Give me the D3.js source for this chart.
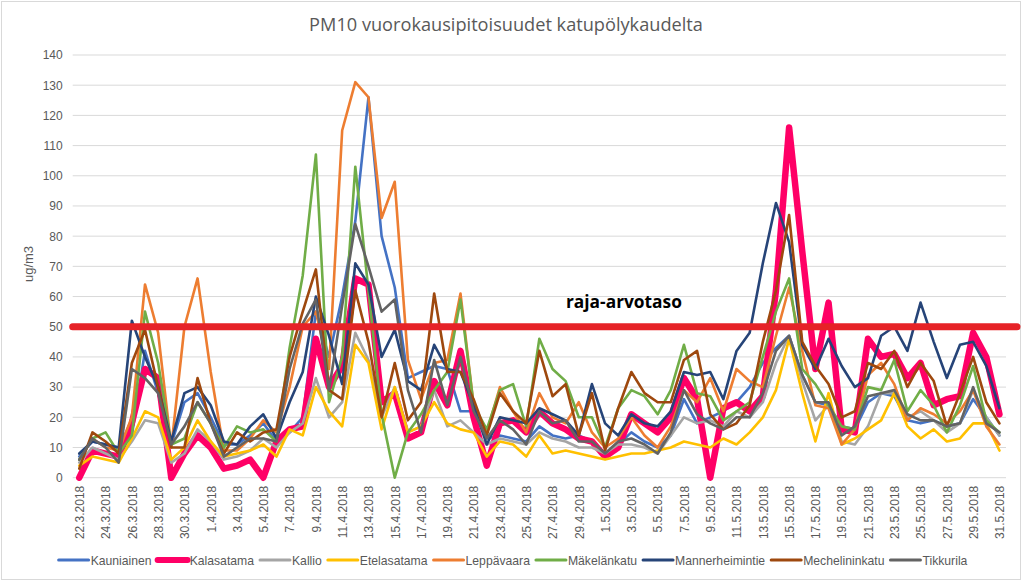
<!DOCTYPE html>
<html><head><meta charset="utf-8">
<script src="https://cdn.jsdelivr.net/npm/d3@7/dist/d3.min.js"></script>
<style>html,body{margin:0;padding:0;background:#fff;}svg{display:block;font-family:"Liberation Sans","DejaVu Sans",sans-serif;}</style>
</head><body>
<svg id="c" width="1023" height="583"></svg>
<script>
const dates = ["22.3.2018","23.3.2018","24.3.2018","25.3.2018","26.3.2018","27.3.2018","28.3.2018","29.3.2018","30.3.2018","31.3.2018",
"1.4.2018","2.4.2018","3.4.2018","4.4.2018","5.4.2018","6.4.2018","7.4.2018","8.4.2018","9.4.2018","10.4.2018",
"11.4.2018","12.4.2018","13.4.2018","14.4.2018","15.4.2018","16.4.2018","17.4.2018","18.4.2018","19.4.2018","20.4.2018",
"21.4.2018","22.4.2018","23.4.2018","24.4.2018","25.4.2018","26.4.2018","27.4.2018","28.4.2018","29.4.2018","30.4.2018",
"1.5.2018","2.5.2018","3.5.2018","4.5.2018","5.5.2018","6.5.2018","7.5.2018","8.5.2018","9.5.2018","10.5.2018",
"11.5.2018","12.5.2018","13.5.2018","14.5.2018","15.5.2018","16.5.2018","17.5.2018","18.5.2018","19.5.2018","20.5.2018",
"21.5.2018","22.5.2018","23.5.2018","24.5.2018","25.5.2018","26.5.2018","27.5.2018","28.5.2018","29.5.2018","30.5.2018","31.5.2018"];

const tickLabels = ["22.3.2018","24.3.2018","26.3.2018","28.3.2018","30.3.2018","1.4.2018","3.4.2018","5.4.2018","7.4.2018","9.4.2018",
"11.4.2018","13.4.2018","15.4.2018","17.4.2018","19.4.2018","21.4.2018","23.4.2018","25.4.2018","27.4.2018","29.4.2018",
"1.5.2018","3.5.2018","5.5.2018","7.5.2018","9.5.2018","11.5.2018","13.5.2018","15.5.2018","17.5.2018","19.5.2018",
"21.5.2018","23.5.2018","25.5.2018","27.5.2018","29.5.2018","31.5.2018"];

const yTicks = [0,10,20,30,40,50,60,70,80,90,100,110,120,130,140];

const seriesNames = ["Kauniainen","Kalasatama","Kallio","Etelasatama","Leppävaara","Mäkelänkatu","Mannerheimintie","Mechelininkatu","Tikkurila"];

const kauniainen = [7,12,11,10,14,42,28,11,25,28,20,11,11,14,18,12,15,20,55,40,60,85,126,80,63,33,35,37,36,22,22,13,14,13,12,17,14,13,14,12,8,11,15,12,10,14,26,18,20,22,25,30,38,43,47,34,25,24,17,16,25,28,27,19,18,19,17,18,26,20,14];
const kalasatama = [0,9,8,7,18,36,33,0,8,14,10,3,4,6,0,12,16,17,46,30,37,66,64,25,28,13,15,32,24,42,20,4,18,19,15,22,18,16,13,12,7,10,21,18,15,20,33,26,0,23,25,22,27,62,116,75,36,58,16,15,46,40,41,33,38,24,26,27,48,40,21];
const kallio = [5,10,8,6,12,19,18,5,8,16,12,6,7,9,13,10,15,18,33,20,25,48,39,20,30,15,17,29,17,19,15,11,13,12,11,15,13,12,10,10,8,11,11,10,8,14,20,18,19,17,22,20,25,38,47,32,19,24,12,11,17,28,28,20,22,19,15,18,29,20,14];
const etelasatama = [4,7,6,5,13,22,20,6,10,19,12,7,8,9,11,7,16,14,30,22,17,44,38,16,30,15,17,25,18,16,15,7,12,11,7,14,8,9,8,7,6,7,8,8,9,10,12,11,10,13,11,15,20,29,46,28,12,28,11,13,16,19,28,17,13,16,12,13,18,18,9];
const leppavaara = [6,13,10,9,20,64,48,10,50,66,35,9,9,13,19,15,30,50,55,36,115,131,126,86,98,39,26,38,39,61,24,15,30,22,15,28,20,18,25,15,10,13,20,14,10,17,29,25,33,22,36,32,30,47,63,42,24,23,11,16,34,38,31,19,23,21,18,22,29,17,11];
const makelankatu = [6,13,15,8,14,55,38,11,13,25,18,10,17,15,16,12,43,67,107,25,40,103,62,21,0,15,21,29,35,59,24,16,29,31,17,46,36,32,20,20,10,23,29,27,21,29,44,28,27,19,22,25,40,55,66,36,31,24,17,16,30,29,39,22,29,24,15,24,37,19,15];
const mannerheimintie = [8,12,11,10,52,40,30,12,28,30,24,12,11,17,21,13,25,35,60,47,31,71,64,40,49,32,29,44,36,35,24,11,20,19,18,23,21,19,14,31,18,14,21,18,17,22,35,34,35,26,42,48,71,91,78,44,36,46,37,30,33,47,50,42,58,45,33,44,45,37,23];
const mechelininkatu = [3,15,12,8,38,49,30,10,10,33,18,8,15,12,15,16,40,55,69,29,26,62,45,20,38,19,25,61,35,35,26,14,28,22,18,42,27,31,14,28,9,23,35,28,25,25,39,42,21,16,18,24,45,62,87,45,37,31,20,22,38,36,42,30,38,32,17,28,40,25,18];
const tikkurila = [6,13,10,5,36,33,28,11,17,25,18,7,10,13,13,12,36,51,59,29,57,84,70,55,59,29,15,39,24,40,22,13,19,16,11,22,18,19,12,12,8,12,13,11,8,15,29,21,18,16,20,20,28,42,47,34,25,25,14,17,27,28,29,21,19,19,17,18,30,18,15];

const seriesValues = [kauniainen,kalasatama,kallio,etelasatama,leppavaara,makelankatu,mannerheimintie,mechelininkatu,tikkurila];
const seriesColors = ["#4472C4","#FF0066","#A5A5A5","#FFC000","#ED7D31","#70AD47","#264478","#9E480E","#636363"];
const seriesWidths = [2.6,6.5,2.6,2.6,2.6,2.6,2.6,2.6,2.6];

const limitValue = 50;
const limitLabel = "raja-arvotaso";
const titleText = "PM10 vuorokausipitoisuudet katupölykaudelta";
const yTitle = "ug/m3";

const svg = d3.select("#c");
const pL = 72.7, pR = 1006, pT = 55, pB = 477.7;

svg.append("rect").attr("x",1.5).attr("y",1.5).attr("width",1019).attr("height",578)
  .attr("fill","#fff").attr("stroke","#D9D9D9").attr("stroke-width",1);

const x = d3.scalePoint().domain(dates).range([pL,pR]).padding(0.5);
const y = d3.scaleLinear().domain([0,140]).range([pB,pT]);

svg.append("g").selectAll("line").data(yTicks).join("line")
  .attr("x1",pL).attr("x2",pR).attr("y1",d=>y(d)).attr("y2",d=>y(d))
  .attr("stroke","#D9D9D9").attr("stroke-width",1);

const yAxis = d3.axisLeft(y).tickValues(yTicks).tickSize(0).tickPadding(0);
const gy = svg.append("g").attr("transform",`translate(${pL-10},0)`).call(yAxis);
gy.select(".domain").remove();
gy.selectAll("text").attr("fill","#595959").style("font-size","12px").attr("font-family","Liberation Sans, sans-serif");

const xAxis = d3.axisBottom(x).tickValues(tickLabels).tickSize(0).tickPadding(0);
const gx = svg.append("g").attr("transform",`translate(0,${pB})`).call(xAxis);
gx.select(".domain").remove();
gx.selectAll("text").attr("fill","#595959").style("font-size","12px").attr("font-family","Liberation Sans, sans-serif")
  .attr("text-anchor","end").attr("dy",null).attr("y",0)
  .attr("transform",`translate(4.3,8) rotate(-90)`);

const line = d3.line().x((d,i)=>x(dates[i])).y(d=>y(d));
svg.append("g").selectAll("path").data(seriesValues).join("path")
  .attr("d",d=>line(d)).attr("fill","none")
  .attr("stroke",(d,i)=>seriesColors[i]).attr("stroke-width",(d,i)=>seriesWidths[i])
  .attr("stroke-linejoin","round").attr("stroke-linecap","round");

svg.append("line").attr("x1",pL).attr("x2",1017).attr("y1",y(limitValue)).attr("y2",y(limitValue))
  .attr("stroke","#E62227").attr("stroke-width",7).attr("stroke-linecap","round");

function fit(sel, w){
  const n = sel.node(); const cur = parseFloat(sel.style("font-size"));
  const m = n.getComputedTextLength(); sel.style("font-size",(cur*w/m)+"px");
}
const lt = svg.append("text").attr("x",566).attr("y",308).text(limitLabel)
  .attr("font-weight","bold").attr("fill","#000").style("font-size","15px").attr("font-family","Open Sans, Liberation Sans, sans-serif");
fit(lt,116);

const tt = svg.append("text").attr("x",506).attr("y",31).attr("text-anchor","middle").text(titleText)
  .attr("fill","#595959").style("font-size","17px").attr("font-family","Open Sans, Liberation Sans, sans-serif");
fit(tt,394);

svg.append("text").attr("transform","translate(33,264) rotate(-90)").attr("text-anchor","middle")
  .text(yTitle).attr("fill","#595959").style("font-size","13px");

const lg = svg.append("g");
let cx = 0;
seriesNames.forEach((n,i)=>{
  const g = lg.append("g");
  g.append("line").attr("x1",0).attr("x2",30).attr("y1",0).attr("y2",0)
    .attr("stroke",seriesColors[i]).attr("stroke-width",i===1?6:3).attr("stroke-linecap","round");
  const t = g.append("text").attr("x",32).attr("y",4.5).text(n).attr("fill","#595959").style("font-size","12.2px");
  const w = 32 + t.node().getComputedTextLength();
  g.attr("transform",`translate(${cx},560)`);
  cx += w + 6;
});
const total = cx - 6;
lg.attr("transform",`translate(${513 - total/2},0)`);
</script>
</body></html>
